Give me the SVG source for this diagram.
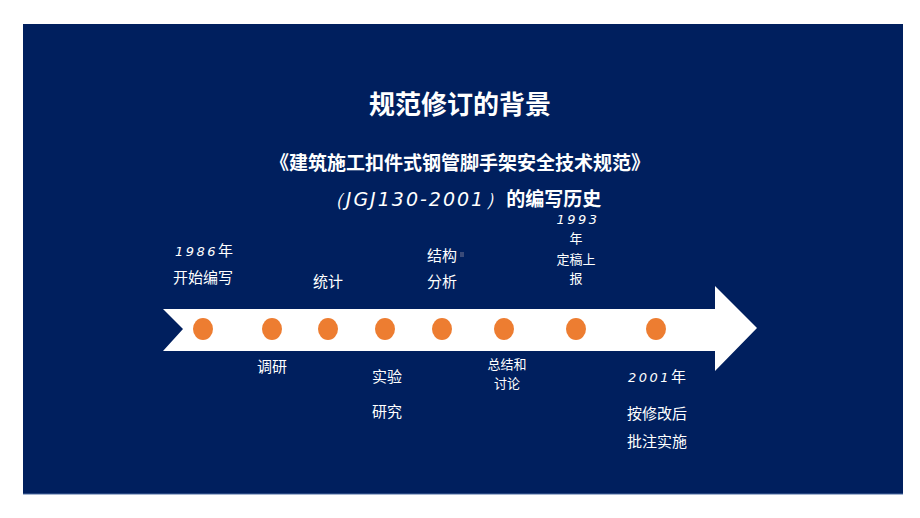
<svg xmlns="http://www.w3.org/2000/svg" width="920" height="518" viewBox="0 0 920 518">
<style>
.t{font-family:"Noto Sans CJK SC","Liberation Sans",sans-serif;fill:#fff;text-anchor:middle}
.lb{font-size:15px}
.sm{font-size:13px}
.num{font-family:"DejaVu Sans","Liberation Sans",sans-serif;font-style:italic;font-size:13px;letter-spacing:2.5px}
.dot{fill:#ED7D31}
</style>
<rect x="0" y="0" width="920" height="518" fill="#fff"/>
<rect x="23" y="24" width="880" height="470" fill="#001F5E"/>
<line x1="23" y1="494" x2="903" y2="494" stroke="#4A6AA0" stroke-width="1"/>
<g id="title">
<text class="t" x="460" y="114" font-size="26" font-weight="bold">规范修订的背景</text>
<text class="t" x="460" y="170" font-size="19" font-weight="bold">《建筑施工扣件式钢管脚手架安全技术规范》</text>
<text class="t" x="463" y="206" font-size="19" font-weight="bold"><tspan font-family="DejaVu Sans,sans-serif" font-style="italic" font-weight="normal" letter-spacing="2">（JGJ130-2001）</tspan>的编写历史</text>
</g>
<g id="connectors">
<polygon id="arrow" points="163,309 715,309 715,286 757,328 715,371 715,351 163,351 183,329" fill="#fff"/>
</g>
<g id="dots">
<ellipse class="dot" cx="203" cy="329" rx="10" ry="11"/>
<ellipse class="dot" cx="272" cy="329" rx="10" ry="11"/>
<ellipse class="dot" cx="328" cy="329" rx="10" ry="11"/>
<ellipse class="dot" cx="385" cy="329" rx="10" ry="11"/>
<ellipse class="dot" cx="442" cy="329" rx="10" ry="11"/>
<ellipse class="dot" cx="504" cy="329" rx="10" ry="11"/>
<ellipse class="dot" cx="576" cy="329" rx="10" ry="11"/>
<ellipse class="dot" cx="656" cy="329" rx="10" ry="11"/>
</g>
<g id="n1986">
<text class="t lb" x="204" y="256"><tspan class="num">1986</tspan>年</text>
<text class="t lb" x="203" y="283">开始编写</text>
</g>
<g id="n-survey"><text class="t lb" x="272" y="372">调研</text></g>
<g id="n-stat"><text class="t lb" x="328" y="287">统计</text></g>
<g id="n-test">
<text class="t lb" x="387" y="382">实验</text>
<text class="t lb" x="387" y="417">研究</text>
</g>
<g id="n-struct">
<text class="t lb" x="442" y="261">结构</text>
<rect x="460" y="252" width="4" height="5" fill="#3A4A78"/>
<text class="t lb" x="442" y="287">分析</text>
</g>
<g id="n-summary">
<text class="t sm" x="507" y="369">总结和</text>
<text class="t sm" x="507" y="388">讨论</text>
</g>
<g id="n1993">
<text class="t num" x="578" y="224">1993</text>
<text class="t sm" x="576" y="243">年</text>
<text class="t sm" x="576" y="264">定稿上</text>
<text class="t sm" x="576" y="283">报</text>
</g>
<g id="n2001">
<text class="t lb" x="657" y="382"><tspan class="num" letter-spacing="0.5">2001</tspan>年</text>
<text class="t lb" x="657" y="419">按修改后</text>
<text class="t lb" x="657" y="447">批注实施</text>
</g>
</svg>
